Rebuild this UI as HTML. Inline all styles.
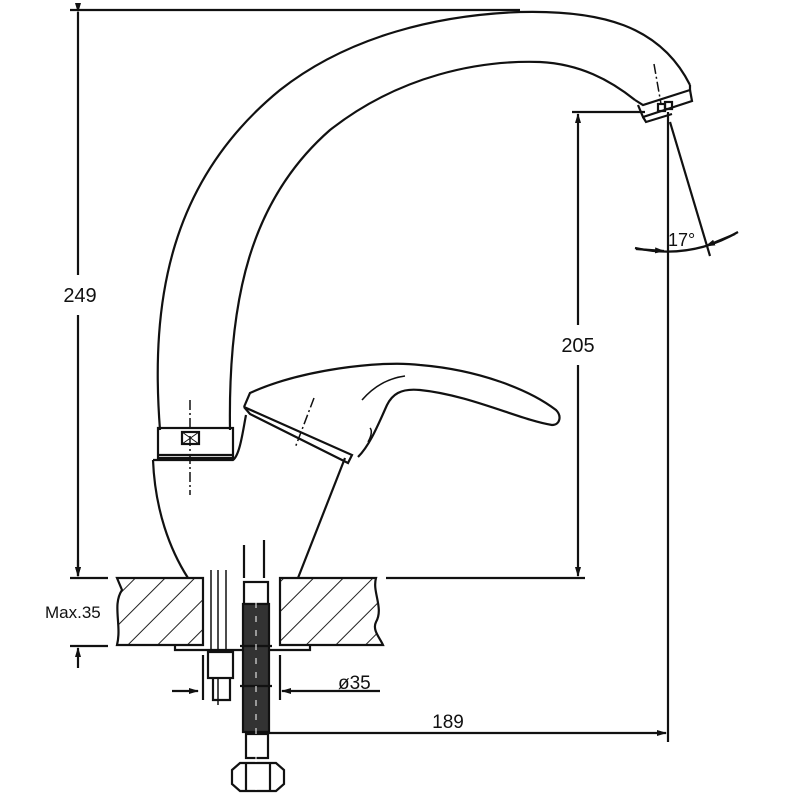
<!DOCTYPE html>
<html><head><meta charset="utf-8"><style>
html,body{margin:0;padding:0;background:#fff;}
svg{display:block;}
text{font-family:"Liberation Sans",sans-serif;fill:#111;}
</style></head><body>
<svg width="800" height="800" viewBox="0 0 800 800" xmlns="http://www.w3.org/2000/svg">
<defs>
<pattern id="h" patternUnits="userSpaceOnUse" width="21" height="21" patternTransform="rotate(45)">
<line x1="0" y1="0" x2="0" y2="21" stroke="#222" stroke-width="2"/>
</pattern>
<marker id="a" markerWidth="10" markerHeight="8" refX="9" refY="4" orient="auto" markerUnits="userSpaceOnUse">
<path d="M0,1 L10,4 L0,7 z" fill="#111"/>
</marker>
</defs>
<g fill="none" stroke="#111" stroke-width="2.2">
<line x1="70" y1="10" x2="520" y2="10"/>
<line x1="78" y1="12" x2="78" y2="275" marker-start="url(#a)"/>
<line x1="78" y1="315" x2="78" y2="576" marker-end="url(#a)"/>
<line x1="70" y1="578" x2="108" y2="578"/>
<line x1="386" y1="578" x2="585" y2="578"/>
<line x1="70" y1="646" x2="108" y2="646"/>
<line x1="78" y1="560" x2="78" y2="576" marker-end="url(#a)"/>
<line x1="78" y1="668" x2="78" y2="648" marker-end="url(#a)"/>
<line x1="572" y1="112" x2="645" y2="112"/>
<line x1="578" y1="325" x2="578" y2="114" marker-end="url(#a)"/>
<line x1="578" y1="365" x2="578" y2="576" marker-end="url(#a)"/>
<line x1="668" y1="112" x2="668" y2="742"/>
<line x1="670" y1="122" x2="710" y2="256"/>
<path d="M635,248 Q690,260 738,232"/>
<line x1="636" y1="249" x2="664" y2="251" marker-end="url(#a)"/>
<line x1="735" y1="234" x2="706" y2="246" marker-end="url(#a)"/>
<line x1="268" y1="733" x2="666" y2="733" marker-end="url(#a)"/>
<line x1="172" y1="691" x2="198" y2="691" marker-end="url(#a)"/>
<line x1="380" y1="691" x2="282" y2="691" marker-end="url(#a)"/>
<line x1="203" y1="655" x2="203" y2="700"/>
<line x1="280" y1="655" x2="280" y2="700"/>
<path d="M160,430 C150,300 170,180 280,90 C350,35 440,15 520,12 C600,10 660,25 690,85"/>
<path d="M230,430 C228,300 250,200 330,130 C400,75 480,60 540,62 C580,64 610,80 635,100"/>
<path d="M635,100 L643,105 L690,90 L690,85"/>
<path d="M638,105 L643,117 L692,101 L690,90"/>
<path d="M643,117 L646,122 L672,114"/>
<rect x="658" y="104" width="7" height="7"/>
<rect x="665" y="102" width="7" height="7"/>
<line x1="654" y1="64" x2="661" y2="104" stroke-dasharray="10,3,2,3" stroke-width="1.5"/>
<rect x="158" y="428" width="75" height="30"/>
<line x1="158" y1="455" x2="233" y2="455"/>
<rect x="182" y="432" width="17" height="12"/>
<path d="M182,432 L199,444 M199,432 L182,444" stroke-width="1"/>
<line x1="190" y1="400" x2="190" y2="495" stroke-dasharray="10,3,2,3" stroke-width="1.5"/>
<path d="M153,460 L233,460 C240,455 243,430 246,415"/>
<path d="M153,460 C155,510 170,550 188,578"/>
<path d="M345,458 L298,578"/>
<path d="M244,407 L250,393 C300,370 380,360 420,365 C480,370 530,390 556,410 C562,416 560,425 552,425 C520,420 470,395 420,390 C400,388 392,395 387,405 C378,425 370,445 358,457"/>
<path d="M244,407 L352,455 L348,463 L250,414 Z"/>
<path d="M362,400 C375,385 390,378 405,376" stroke-width="1.5"/>
<path d="M368,442 C372,435 372,430 370,428" stroke-width="1.5"/>
<line x1="314" y1="398" x2="295" y2="448" stroke-dasharray="10,3,2,3" stroke-width="1.5"/>
</g>
<g stroke="#111" stroke-width="2.2">
<path d="M117,578 L203,578 L203,645 L117,645 C122,625 112,605 122,590 Z" fill="url(#h)"/>
<path d="M280,578 L376,578 C372,592 384,608 376,622 C372,630 380,638 383,645 L280,645 Z" fill="url(#h)"/>
<path d="M175,645 L175,650 L310,650 L310,645" fill="none"/>
<path d="M211,570 L211,652 M226,570 L226,652 M218,570 L218,705" fill="none" stroke-width="1.5"/>
<rect x="208" y="652" width="25" height="26" fill="#fff"/>
<path d="M213,678 L213,700 L230,700 L230,678" fill="none"/>
<line x1="244" y1="545" x2="244" y2="578" fill="none"/>
<line x1="264" y1="540" x2="264" y2="578" fill="none"/>
<rect x="244" y="582" width="24" height="22" fill="#fff"/>
<rect x="243" y="604" width="26" height="128" fill="#333"/>
<line x1="240" y1="646" x2="272" y2="646"/>
<line x1="240" y1="686" x2="272" y2="686"/>
<rect x="246" y="734" width="22" height="24" fill="#fff"/>
<path d="M232,770 L240,763 L276,763 L284,770 L284,784 L276,791 L240,791 L232,784 Z" fill="#fff"/>
<path d="M246,763 L246,791 M270,763 L270,791" fill="none"/>
<line x1="256" y1="560" x2="256" y2="798" stroke="#fff" stroke-width="1" stroke-dasharray="6,8"/>
</g>
<text x="80" y="302" font-size="20" text-anchor="middle">249</text>
<text x="578" y="352" font-size="20" text-anchor="middle">205</text>
<text x="45" y="618" font-size="17">Max.35</text>
<text x="338" y="689" font-size="19">ø35</text>
<text x="448" y="728" font-size="19" text-anchor="middle">189</text>
<text x="668" y="246" font-size="18">17°</text>
</svg>
</body></html>
